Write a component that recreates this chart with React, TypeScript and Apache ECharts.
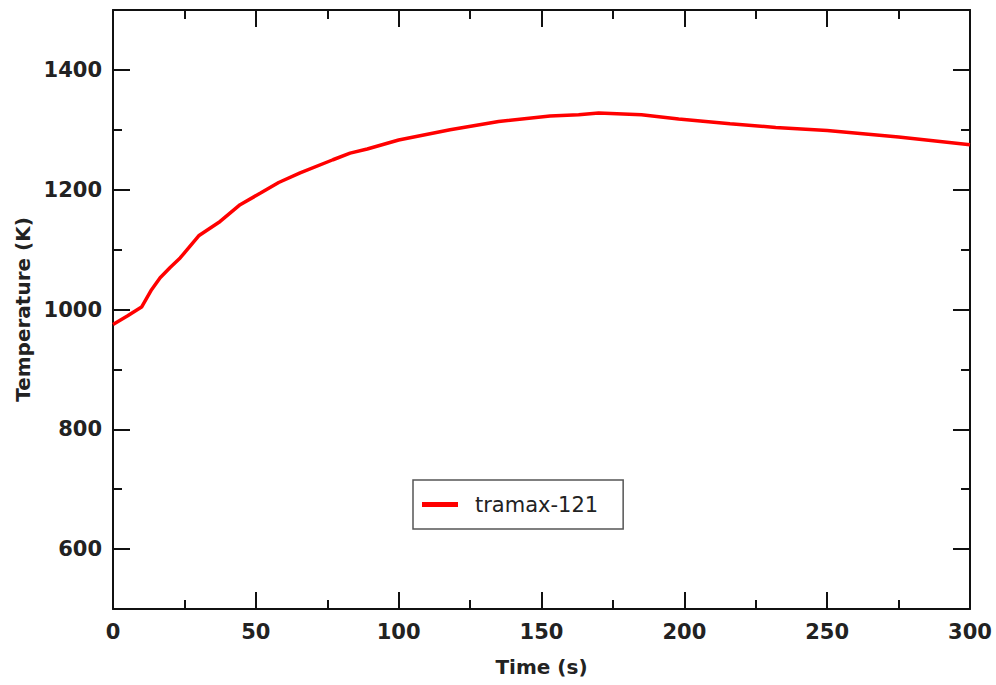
import React, { useEffect, useRef } from "react";
import * as echarts from "echarts";

const times = [0, 5, 10, 13.5, 16.5, 20, 23.5, 30, 37.5, 44.5, 51.5, 58, 65.5, 77, 83, 89, 100, 118, 135, 153, 163, 170, 185, 198, 216, 232, 250, 275, 300];
const temps = [975, 989, 1004, 1033, 1053, 1070, 1086, 1123, 1147, 1175, 1194, 1212, 1228, 1250, 1261, 1268, 1283, 1300, 1314, 1323, 1325, 1328, 1325, 1318, 1310, 1304, 1299, 1288, 1275];
const yMajorTicks = [600, 800, 1000, 1200, 1400];
const yMinorTicks = [700, 900, 1100, 1300];
const seriesName = "tramax-121";
const xTitle = "Time (s)";
const yTitle = "Temperature (K)";

export default function App() {
  const ref = useRef<HTMLDivElement>(null);
  useEffect(() => {
    if (!ref.current) return;
    const chart = echarts.init(ref.current, undefined, { renderer: "svg" });
    const font = "DejaVu Sans";
    const line = { color: "#111", width: 2 };
    const axisLine = { show: true, lineStyle: line };
    const label = { color: "#222", fontFamily: font, fontWeight: "bold" as const, fontSize: 21 };
    const xTick = { show: true, inside: true, length: 17, lineStyle: line };
    const xMinor = { show: true, splitNumber: 2, length: 9, lineStyle: line };
    const yAxisBase = (position: string, values: number[], len: number, withLine: boolean) => ({
      type: "value",
      position,
      min: 500,
      max: 1500,
      interval: 100,
      axisLine: withLine ? axisLine : { show: false },
      axisTick: { show: true, length: -len, customValues: values, lineStyle: line },
      minorTick: { show: false },
      axisLabel: { show: false },
      splitLine: { show: false },
    });
    chart.setOption({
      animation: false,
      backgroundColor: "#fff",
      grid: { left: 113, right: 26, top: 10, bottom: 76, containLabel: false, outerBoundsMode: "none" },
      legend: {
        left: 413,
        top: 480,
        orient: "horizontal",
        padding: [14, 25, 14, 9],
        borderColor: "#555",
        borderWidth: 1.5,
        backgroundColor: "#fff",
        icon: "rect",
        itemWidth: 36,
        itemHeight: 5,
        textStyle: { color: "#222", fontFamily: font, fontSize: 21, padding: [0, 0, 0, 12] },
        data: [seriesName],
      },
      xAxis: [
        {
          type: "value",
          min: 0,
          max: 300,
          interval: 50,
          name: xTitle,
          nameLocation: "middle",
          nameGap: 48,
          nameTextStyle: { color: "#222", fontFamily: font, fontWeight: "bold", fontSize: 20 },
          axisLine,
          axisTick: xTick,
          minorTick: xMinor,
          axisLabel: { ...label, margin: 12, formatter: (v: number) => String(v) },
          splitLine: { show: false },
        },
        {
          type: "value",
          position: "top",
          min: 0,
          max: 300,
          interval: 50,
          axisLine,
          axisTick: xTick,
          minorTick: xMinor,
          axisLabel: { show: false },
          splitLine: { show: false },
        },
      ],
      yAxis: [
        {
          ...yAxisBase("left", yMajorTicks, 17, true),
          name: yTitle,
          nameLocation: "middle",
          nameGap: 80,
          nameTextStyle: { color: "#222", fontFamily: font, fontWeight: "bold", fontSize: 20 },
          axisLabel: {
            ...label,
            margin: 11,
            customValues: yMajorTicks,
            formatter: (v: number) => String(v),
          },
        },
        yAxisBase("left", yMinorTicks, 9, false),
        yAxisBase("right", yMajorTicks, 17, true),
        yAxisBase("right", yMinorTicks, 9, false),
      ],
      series: [
        {
          name: seriesName,
          type: "line",
          xAxisIndex: 0,
          yAxisIndex: 0,
          data: times.map((t, i) => [t, temps[i]]),
          showSymbol: false,
          symbol: "none",
          smooth: false,
          lineStyle: { color: "#ff0000", width: 3.5 },
          itemStyle: { color: "#ff0000" },
        },
      ],
    });
    return () => chart.dispose();
  }, []);
  return (
    <div
      ref={ref}
      style={{ position: "absolute", left: 0, top: 0, width: 996, height: 685 }}
    />
  );
}
